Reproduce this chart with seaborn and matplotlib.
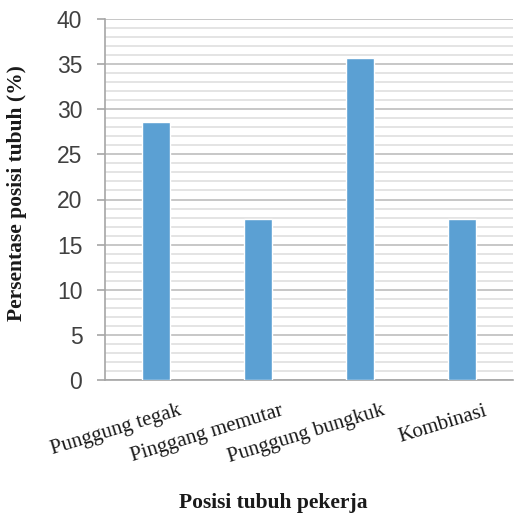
import matplotlib
matplotlib.use("Agg")
import matplotlib.pyplot as plt
import matplotlib.transforms as mtransforms
import seaborn as sns
import pandas as pd
from matplotlib.ticker import MultipleLocator

categories = ["Punggung tegak", "Pinggang memutar", "Punggung bungkuk", "Kombinasi"]
values = [28.57, 17.86, 35.71, 17.86]
y_ticks = [0, 5, 10, 15, 20, 25, 30, 35, 40]

df = pd.DataFrame({"posisi": categories, "persen": values})

sns.set_style("white")
fig = plt.figure(figsize=(5.25, 5.17), dpi=100)
ax = fig.add_axes([105 / 525, 1 - 380 / 517, 408 / 525, 361 / 517])

sns.barplot(data=df, x="posisi", y="persen", color="#5BA0D3", width=0.27,
            saturation=1, ax=ax, zorder=3)

ax.set_ylim(0, 40)
ax.set_xlim(-0.5, 3.5)
ax.yaxis.set_minor_locator(MultipleLocator(1))
ax.set_yticks(y_ticks)
ax.grid(which="major", axis="y", color="#BEBEBE", linewidth=1.2, zorder=0)
ax.grid(which="minor", axis="y", color="#DCDCDC", linewidth=1.1, zorder=0)
ax.set_axisbelow(True)

for s in ["top", "right"]:
    ax.spines[s].set_visible(False)
for s in ["left", "bottom"]:
    ax.spines[s].set_color("#A6A6A6")
    ax.spines[s].set_linewidth(1.2)

ax.tick_params(axis="y", which="major", left=True, length=5.8, width=1.2,
               color="#A6A6A6", labelsize=16.5, labelcolor="#404040", pad=10.5)
ax.tick_params(axis="y", which="minor", left=False)
ax.tick_params(axis="x", bottom=False, pad=12)
for lbl in ax.get_yticklabels():
    lbl.set_fontfamily("Liberation Sans")

ax.set_xticks(range(len(categories)))
ax.set_xticklabels(categories, rotation=17, fontsize=15,
                   fontfamily="Liberation Serif", color="#1a1a1a")
shift = mtransforms.ScaledTranslation(22 / 100, 0, fig.dpi_scale_trans)
for lbl in ax.get_xticklabels():
    lbl.set_rotation_mode("anchor")
    lbl.set_horizontalalignment("right")
    lbl.set_verticalalignment("top")
    lbl.set_transform(lbl.get_transform() + shift)

ax.set_xlabel("")
ax.set_ylabel("Persentase posisi tubuh (%)", fontsize=15.5, fontweight="bold",
              fontfamily="Liberation Serif", color="#1a1a1a")
ax.yaxis.set_label_coords((27 - 105) / 408, (380 - 193) / 361)

fig.text(273 / 525, 1 - 503 / 517, "Posisi tubuh pekerja", ha="center",
         va="center", fontsize=15.5, fontweight="bold",
         fontfamily="Liberation Serif", color="#1a1a1a")

fig.savefig("out.png", dpi=100)
